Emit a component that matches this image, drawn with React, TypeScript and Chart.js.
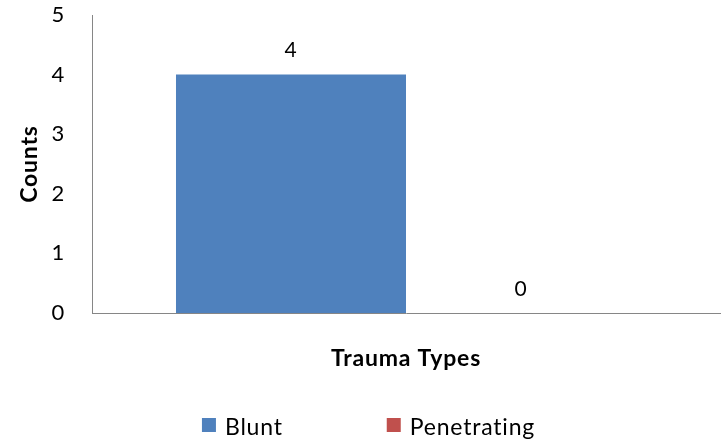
import React, { useEffect, useRef } from "react";
import { Chart, registerables } from "chart.js";

Chart.register(...registerables);

const categories: string[] = [""];
const seriesNames: string[] = ["Blunt", "Penetrating"];
const bluntValues: number[] = [4];
const penetratingValues: number[] = [0];
const seriesColors: string[] = ["#4F81BD", "#C0504D"];
const yTicks: number[] = [0, 1, 2, 3, 4, 5];
const xTitle = "Trauma Types";
const yTitle = "Counts";

const FONT = "Lato, 'Open Sans', sans-serif";
const TEXT = "#000000";

const spacing = {
  id: "spacing",
  beforeDraw(chart: any) {
    try {
      chart.ctx.letterSpacing = "0.8px";
    } catch (e) {}
  },
};

const valueLabels = {
  id: "valueLabels",
  afterDatasetsDraw(chart: any) {
    const ctx = chart.ctx;
    ctx.save();
    ctx.font = `21px ${FONT}`;
    ctx.fillStyle = TEXT;
    ctx.textAlign = "center";
    ctx.textBaseline = "middle";
    chart.data.datasets.forEach((ds: any, i: number) => {
      const meta = chart.getDatasetMeta(i);
      meta.data.forEach((el: any, j: number) => {
        ctx.fillText(String(ds.data[j]), el.x, el.y - 24);
      });
    });
    ctx.restore();
  },
};

const bottomLegend = {
  id: "bottomLegend",
  afterDraw(chart: any) {
    const ctx = chart.ctx;
    ctx.save();
    ctx.font = `23px ${FONT}`;
    ctx.textBaseline = "middle";
    ctx.textAlign = "left";
    const box = 14;
    const boxGap = 9;
    const itemGap = 104;
    const items = chart.data.datasets.map((ds: any) => ({
      text: ds.label,
      color: ds.backgroundColor,
      w: ctx.measureText(ds.label).width,
    }));
    let total = 0;
    items.forEach((it: any, i: number) => {
      total += box + boxGap + it.w + (i < items.length - 1 ? itemGap : 0);
    });
    let x = chart.width / 2 + 6 - total / 2;
    const yMid = chart.chartArea.bottom + 115;
    items.forEach((it: any) => {
      ctx.fillStyle = it.color;
      ctx.fillRect(x, yMid - 10, box, box);
      ctx.fillStyle = TEXT;
      ctx.fillText(it.text, x + box + boxGap, yMid);
      x += box + boxGap + it.w + itemGap;
    });
    ctx.restore();
  },
};

export default function App() {
  const ref = useRef<HTMLCanvasElement | null>(null);

  useEffect(() => {
    document.body.style.margin = "0";
    if (!ref.current) return;
    const chart = new Chart(ref.current, {
      type: "bar",
      data: {
        labels: categories,
        datasets: [
          {
            label: seriesNames[0],
            data: bluntValues,
            backgroundColor: seriesColors[0],
            categoryPercentage: 0.7325,
            barPercentage: 1,
          },
          {
            label: seriesNames[1],
            data: penetratingValues,
            backgroundColor: seriesColors[1],
            categoryPercentage: 0.7325,
            barPercentage: 1,
          },
        ],
      },
      options: {
        responsive: false,
        animation: false,
        layout: { padding: { top: 15, right: 5, bottom: 70.4, left: 0 } },
        plugins: {
          legend: { display: false },
          tooltip: { enabled: false },
        },
        scales: {
          x: {
            ticks: { display: false },
            grid: { display: false, drawTicks: false },
            border: { display: true, color: "#868686", width: 1 },
            title: {
              display: true,
              text: xTitle,
              color: TEXT,
              font: { family: FONT, size: 23, weight: "bold", lineHeight: 1.2 },
              padding: { top: 32, bottom: 0 },
            },
          },
          y: {
            min: 0,
            max: 5,
            afterBuildTicks(scale: any) {
              scale.ticks = yTicks.map((v) => ({ value: v }));
            },
            afterFit(scale: any) {
              scale.width = 92;
              scale.paddingTop = 0;
              scale.paddingBottom = 0;
            },
            ticks: {
              stepSize: 1,
              padding: 27,
              color: TEXT,
              font: { family: FONT, size: 22 },
            },
            grid: { display: false, drawTicks: false },
            border: { display: true, color: "#868686", width: 1 },
            title: {
              display: true,
              text: yTitle,
              color: TEXT,
              font: { family: FONT, size: 23, weight: "bold", lineHeight: 1.2 },
              padding: { top: 16, bottom: 0 },
            },
          },
        },
      },
      plugins: [spacing, valueLabels, bottomLegend],
    });
    return () => chart.destroy();
  }, []);

  return (
    <div style={{ width: 725, height: 443 }}>
      <canvas ref={ref} width={725} height={443} />
    </div>
  );
}
